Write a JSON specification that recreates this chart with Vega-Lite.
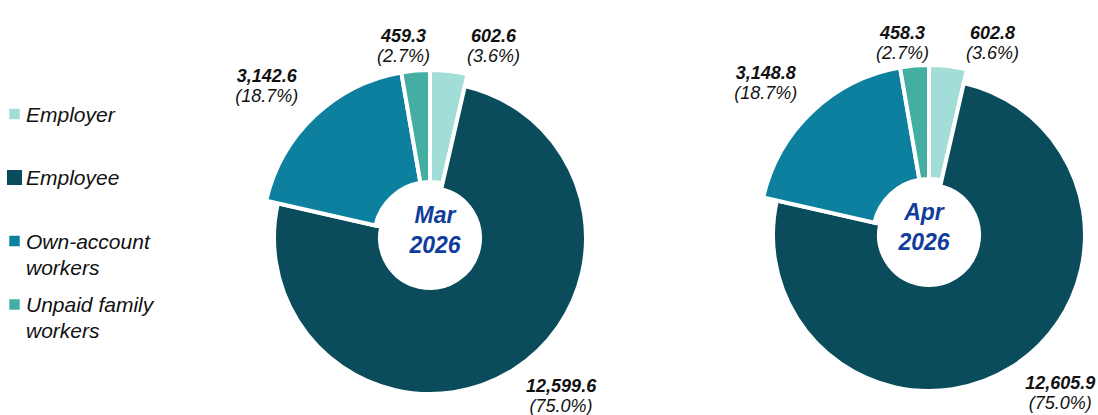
{
  "$schema": "https://vega.github.io/schema/vega-lite/v6.json",
  "padding": 0,
  "bounds": "flush",
  "config": {
    "view": {"stroke": null},
    "concat": {"spacing": 0},
    "font": "Liberation Sans"
  },
  "datasets": {
    "emp": [
      {"month": "Mar 2026", "cat": "Employer", "v": 602.6},
      {"month": "Mar 2026", "cat": "Employee", "v": 12599.6},
      {"month": "Mar 2026", "cat": "Own-account workers", "v": 3142.6},
      {"month": "Mar 2026", "cat": "Unpaid family workers", "v": 459.3},
      {"month": "Apr 2026", "cat": "Employer", "v": 602.8},
      {"month": "Apr 2026", "cat": "Employee", "v": 12605.9},
      {"month": "Apr 2026", "cat": "Own-account workers", "v": 3148.8},
      {"month": "Apr 2026", "cat": "Unpaid family workers", "v": 458.3}
    ]
  },
  "hconcat": [
    {
      "width": 29,
      "height": 415,
      "data": {"name": "emp"},
      "transform": [
        {"filter": "datum.month === 'Mar 2026'"},
        {"calculate": "replace(datum.cat, ' workers', '\\nworkers')", "as": "lbl"}
      ],
      "encoding": {
        "y": {
          "field": "cat", "type": "nominal",
          "sort": ["Employer", "Employee", "Own-account workers", "Unpaid family workers"],
          "scale": {"type": "point", "range": [114, 304.5], "padding": 0},
          "axis": null
        }
      },
      "layer": [
        {
          "mark": {"type": "square", "filled": true, "opacity": 1,
                   "size": {"expr": "datum.cat === 'Employee' ? 225 : 110"}},
          "encoding": {
            "color": {
              "field": "cat", "type": "nominal",
              "scale": {
                "domain": ["Employer", "Employee", "Own-account workers", "Unpaid family workers"],
                "range": ["#A2DDD7", "#0A4B5C", "#0D809F", "#45AEA3"]
              },
              "legend": null
            }
          }
        },
        {
          "mark": {"type": "text", "align": "left", "baseline": "alphabetic", "dx": 11.5, "dy": 7.5,
                   "fontSize": 21, "fontStyle": "italic", "color": "#111111",
                   "lineBreak": "\n", "lineHeight": 26},
          "encoding": {"text": {"field": "lbl", "type": "nominal"}}
        }
      ]
    },
    {
      "width": 802,
      "height": 476,
      "data": {"name": "emp"},
      "transform": [
        {"filter": "datum.month === 'Mar 2026'"},
        {"joinaggregate": [{"op": "sum", "field": "v", "as": "tot"}]},
        {"calculate": "'(' + format(datum.v / datum.tot, '.1%') + ')'", "as": "pctLabel"},
        {"calculate": "indexof(['Employer','Employee','Own-account workers','Unpaid family workers'], datum.cat)", "as": "k"}
      ],
      "encoding": {
        "theta": {"field": "v", "type": "quantitative", "stack": true},
        "order": {"field": "k", "type": "quantitative"}
      },
      "layer": [
        {
          "mark": {"type": "arc", "stroke": "white", "strokeWidth": 4,
                   "radius": {"expr": "datum.cat === 'Employee' ? 156 : 168"},
                   "radius2": {"expr": "datum.cat === 'Employee' ? 50 : 56"}},
          "encoding": {
            "color": {
              "field": "cat", "type": "nominal",
              "scale": {
                "domain": ["Employer", "Employee", "Own-account workers", "Unpaid family workers"],
                "range": ["#A2DDD7", "#0A4B5C", "#0D809F", "#45AEA3"]
              },
              "legend": null
            }
          }
        },
        {
          "mark": {"type": "text", "radius": 192, "fontSize": 18, "fontStyle": "italic", "fontWeight": "bold", "color": "#111111",
                   "dx": {"expr": "datum.cat === 'Employer' ? 42 : datum.cat === 'Unpaid family workers' ? -10 : datum.cat === 'Own-account workers' ? -31 : 29"},
                   "dy": {"expr": "(datum.cat === 'Employer' ? -1 : datum.cat === 'Unpaid family workers' ? -1 : datum.cat === 'Own-account workers' ? -13 : -5) - 9"}},
          "encoding": {"text": {"field": "v", "type": "quantitative", "format": ",.1f"}}
        },
        {
          "mark": {"type": "text", "radius": 192, "fontSize": 18, "fontStyle": "italic", "color": "#111111",
                   "dx": {"expr": "datum.cat === 'Employer' ? 42 : datum.cat === 'Unpaid family workers' ? -10 : datum.cat === 'Own-account workers' ? -31 : 29"},
                   "dy": {"expr": "(datum.cat === 'Employer' ? -1 : datum.cat === 'Unpaid family workers' ? -1 : datum.cat === 'Own-account workers' ? -13 : -5) + 11"}},
          "encoding": {"text": {"field": "pctLabel", "type": "nominal"}}
        },
        {
          "transform": [{"aggregate": [{"op": "count", "as": "n"}], "groupby": ["month"]}],
          "mark": {"type": "text", "fontSize": 23, "fontStyle": "italic", "fontWeight": "bold", "color": "#113C9C",
                   "lineBreak": " ", "lineHeight": 29.5, "dx": 5, "dy": -22},
          "encoding": {"text": {"field": "month", "type": "nominal"}, "theta": null, "order": null}
        }
      ]
    },
    {
      "width": 196,
      "height": 470,
      "data": {"name": "emp"},
      "transform": [
        {"filter": "datum.month === 'Apr 2026'"},
        {"joinaggregate": [{"op": "sum", "field": "v", "as": "tot"}]},
        {"calculate": "'(' + format(datum.v / datum.tot, '.1%') + ')'", "as": "pctLabel"},
        {"calculate": "indexof(['Employer','Employee','Own-account workers','Unpaid family workers'], datum.cat)", "as": "k"}
      ],
      "encoding": {
        "theta": {"field": "v", "type": "quantitative", "stack": true},
        "order": {"field": "k", "type": "quantitative"}
      },
      "layer": [
        {
          "mark": {"type": "arc", "stroke": "white", "strokeWidth": 4,
                   "radius": {"expr": "datum.cat === 'Employee' ? 156 : 170"},
                   "radius2": {"expr": "datum.cat === 'Employee' ? 50 : 56"}},
          "encoding": {
            "color": {
              "field": "cat", "type": "nominal",
              "scale": {
                "domain": ["Employer", "Employee", "Own-account workers", "Unpaid family workers"],
                "range": ["#A2DDD7", "#0A4B5C", "#0D809F", "#45AEA3"]
              },
              "legend": null
            }
          }
        },
        {
          "mark": {"type": "text", "radius": 192, "fontSize": 18, "fontStyle": "italic", "fontWeight": "bold", "color": "#111111",
                   "dx": {"expr": "datum.cat === 'Employer' ? 42 : datum.cat === 'Unpaid family workers' ? -10 : datum.cat === 'Own-account workers' ? -31 : 29"},
                   "dy": {"expr": "(datum.cat === 'Employer' ? -1 : datum.cat === 'Unpaid family workers' ? -1 : datum.cat === 'Own-account workers' ? -13 : -5) - 9"}},
          "encoding": {"text": {"field": "v", "type": "quantitative", "format": ",.1f"}}
        },
        {
          "mark": {"type": "text", "radius": 192, "fontSize": 18, "fontStyle": "italic", "color": "#111111",
                   "dx": {"expr": "datum.cat === 'Employer' ? 42 : datum.cat === 'Unpaid family workers' ? -10 : datum.cat === 'Own-account workers' ? -31 : 29"},
                   "dy": {"expr": "(datum.cat === 'Employer' ? -1 : datum.cat === 'Unpaid family workers' ? -1 : datum.cat === 'Own-account workers' ? -13 : -5) + 11"}},
          "encoding": {"text": {"field": "pctLabel", "type": "nominal"}}
        },
        {
          "transform": [{"aggregate": [{"op": "count", "as": "n"}], "groupby": ["month"]}],
          "mark": {"type": "text", "fontSize": 23, "fontStyle": "italic", "fontWeight": "bold", "color": "#113C9C",
                   "lineBreak": " ", "lineHeight": 29.5, "dx": -5, "dy": -22},
          "encoding": {"text": {"field": "month", "type": "nominal"}, "theta": null, "order": null}
        }
      ]
    }
  ]
}
